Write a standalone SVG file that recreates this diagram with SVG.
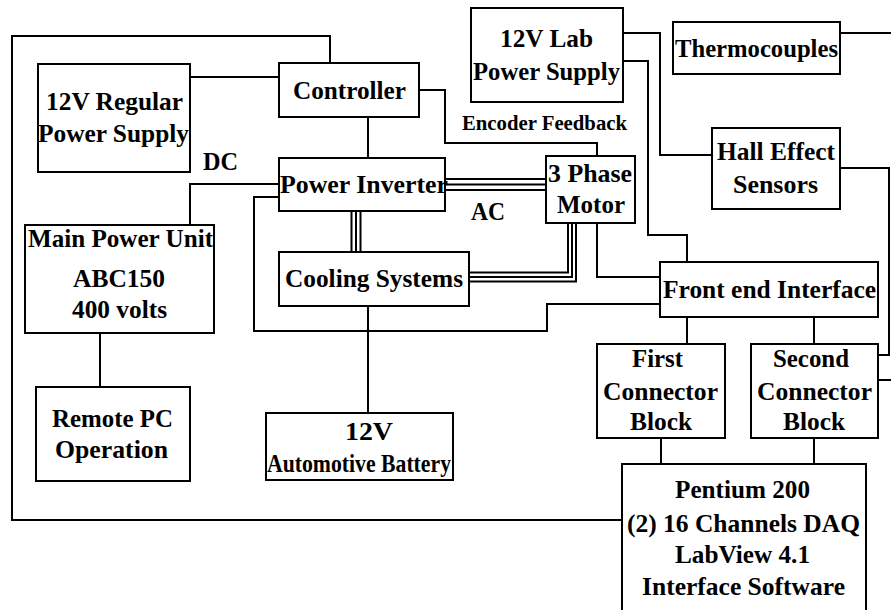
<svg xmlns="http://www.w3.org/2000/svg" width="891" height="610" viewBox="0 0 891 610">
<style>
.box{fill:#fff;stroke:#000;stroke-width:2}
.ln{fill:none;stroke:#000;stroke-width:2}
text{font-family:"Liberation Serif","Times New Roman",serif;font-weight:bold;font-size:25px;fill:#000}
.sm{font-size:20px}
</style>
<rect width="891" height="610" fill="#fff"/>
<g id="connectors">
<path class="ln" d="M330 64V36H12V520H622"/>
<path class="ln" d="M190 77H279"/>
<path class="ln" d="M419 90H445V143H597V156"/>
<path class="ln" d="M368 117V158"/>
<path class="ln" d="M190 225V184H279"/>
<path class="ln" d="M279 197H254V331H547V304H660"/>
<path class="ln" d="M100 333V387"/>
<path class="ln" d="M368 306V413"/>
<path class="ln" d="M351.5 211V252M356 211V252M360.5 211V252" stroke-width="2.5"/>
<path class="ln" d="M445 179H546M445 184.5H546M445 190H546" stroke-width="3"/>
<path class="ln" d="M568 223V272.5H469M572 223V277H469M576 223V281.5H469" stroke-width="2.5"/>
<path class="ln" d="M597 223V277H660"/>
<path class="ln" d="M623 33H660V155H712"/>
<path class="ln" d="M623 61H648V235H687V262"/>
<path class="ln" d="M840 33H891"/>
<path class="ln" d="M840 168H889V355H878"/>
<path class="ln" d="M891 380H878"/>
<path class="ln" d="M687 317V344"/>
<path class="ln" d="M814 317V344"/>
<path class="ln" d="M661 438V464"/>
<path class="ln" d="M814 438V464"/>
</g>
<g id="reg12"><rect class="box" x="38" y="64" width="152" height="108"/><text x="46" y="110" textLength="137" lengthAdjust="spacingAndGlyphs">12V Regular</text><text x="38" y="142" textLength="151" lengthAdjust="spacingAndGlyphs">Power Supply</text></g>
<g id="controller"><rect class="box" x="279" y="63" width="140" height="54"/><text x="293" y="99" textLength="113" lengthAdjust="spacingAndGlyphs">Controller</text></g>
<g id="inverter"><rect class="box" x="279" y="158" width="166" height="53"/><text x="280" y="193" textLength="168" lengthAdjust="spacingAndGlyphs">Power Inverter</text></g>
<g id="lab12"><rect class="box" x="471" y="8" width="152" height="94"/><text x="500" y="47" textLength="93" lengthAdjust="spacingAndGlyphs">12V Lab</text><text x="473" y="80" textLength="147" lengthAdjust="spacingAndGlyphs">Power Supply</text></g>
<g id="thermo"><rect class="box" x="673" y="22" width="167" height="52"/><text x="675" y="57" textLength="163" lengthAdjust="spacingAndGlyphs">Thermocouples</text></g>
<g id="hall"><rect class="box" x="712" y="128" width="128" height="81"/><text x="717" y="160" textLength="118" lengthAdjust="spacingAndGlyphs">Hall Effect</text><text x="733" y="193" textLength="85" lengthAdjust="spacingAndGlyphs">Sensors</text></g>
<g id="motor"><rect class="box" x="546" y="156" width="89" height="67"/><text x="548" y="182" textLength="84" lengthAdjust="spacingAndGlyphs">3 Phase</text><text x="557" y="213" textLength="68" lengthAdjust="spacingAndGlyphs">Motor</text></g>
<g id="mpu"><rect class="box" x="25" y="225" width="189" height="108"/><text x="28" y="247" textLength="185" lengthAdjust="spacingAndGlyphs">Main Power Unit</text><text x="73" y="287" textLength="92" lengthAdjust="spacingAndGlyphs">ABC150</text><text x="72" y="318" textLength="95" lengthAdjust="spacingAndGlyphs">400 volts</text></g>
<g id="cooling"><rect class="box" x="279" y="252" width="190" height="54"/><text x="285" y="287" textLength="178" lengthAdjust="spacingAndGlyphs">Cooling Systems</text></g>
<g id="fe"><rect class="box" x="660" y="262" width="218" height="55"/><text x="663" y="298" textLength="213" lengthAdjust="spacingAndGlyphs">Front end Interface</text></g>
<g id="first"><rect class="box" x="597" y="344" width="128" height="94"/><text x="632" y="367" textLength="51" lengthAdjust="spacingAndGlyphs">First</text><text x="603" y="400" textLength="115" lengthAdjust="spacingAndGlyphs">Connector</text><text x="630" y="430" textLength="62" lengthAdjust="spacingAndGlyphs">Block</text></g>
<g id="second"><rect class="box" x="751" y="344" width="127" height="94"/><text x="773" y="367" textLength="76" lengthAdjust="spacingAndGlyphs">Second</text><text x="757" y="400" textLength="115" lengthAdjust="spacingAndGlyphs">Connector</text><text x="783" y="430" textLength="62" lengthAdjust="spacingAndGlyphs">Block</text></g>
<g id="remote"><rect class="box" x="36" y="387" width="154" height="94"/><text x="52" y="427" textLength="121" lengthAdjust="spacingAndGlyphs">Remote PC</text><text x="55" y="458" textLength="113" lengthAdjust="spacingAndGlyphs">Operation</text></g>
<g id="battery"><rect class="box" x="266" y="413" width="187" height="67"/><text x="345" y="440" textLength="48" lengthAdjust="spacingAndGlyphs">12V</text><text x="267" y="472" textLength="184" lengthAdjust="spacingAndGlyphs">Automotive Battery</text></g>
<g id="pentium"><rect class="box" x="622" y="464" width="244" height="150"/><text x="675" y="498" textLength="135" lengthAdjust="spacingAndGlyphs">Pentium 200</text><text x="627" y="532" textLength="233" lengthAdjust="spacingAndGlyphs">(2) 16 Channels DAQ</text><text x="675" y="563" textLength="135" lengthAdjust="spacingAndGlyphs">LabView 4.1</text><text x="642" y="595" textLength="203" lengthAdjust="spacingAndGlyphs">Interface Software</text></g>
<g id="labels"><text x="203" y="170" textLength="35" lengthAdjust="spacingAndGlyphs">DC</text><text x="471" y="220" textLength="34" lengthAdjust="spacingAndGlyphs">AC</text><text class="sm" x="462" y="130" textLength="165" lengthAdjust="spacingAndGlyphs">Encoder Feedback</text></g>
</svg>
